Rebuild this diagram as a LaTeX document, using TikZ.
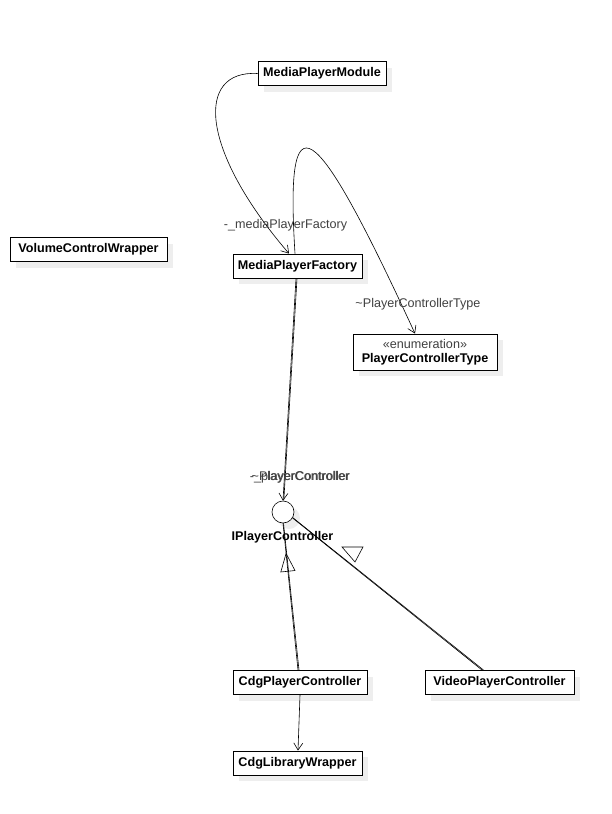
\documentclass[tikz,border=0pt]{standalone}
\usepackage{fontspec}
\setmainfont{Liberation Sans}
\usetikzlibrary{arrows.meta,shadows,decorations.markings}
\definecolor{shadowgray}{HTML}{EEEEEE}
\definecolor{labelgray}{HTML}{404040}
\begin{document}
\begin{tikzpicture}[x=1pt,y=-1pt,
  cls/.style={draw, line width=0.9pt, fill=white, font=\fontsize{12.6}{14}\selectfont\bfseries,
    minimum height=24pt, inner sep=0pt,
    drop shadow={shadow xshift=6pt, shadow yshift=-6pt, fill=shadowgray, opacity=1}},
  lbl/.style={font=\fontsize{12.6}{14}\selectfont, text=labelgray, inner sep=0pt},
  conn/.style={line width=0.6pt},
  arr/.style={conn, -{Straight Barb[length=7pt,width=9pt]}},
  real/.style={conn, postaction={decorate}}]
\useasboundingbox (0,0) rectangle (611,814);

\node[cls, minimum width=128pt] (mpm) at (322,73.5) {MediaPlayerModule};
\node[cls, minimum width=157pt] (vcw) at (88.5,249.5) {VolumeControlWrapper};
\node[cls, minimum width=129pt] (mpf) at (297.5,266) {MediaPlayerFactory};
\node[cls, minimum width=144pt, minimum height=36pt, align=center] (pct) at (425,352)
  {{\fontsize{12.6}{15}\selectfont\mdseries\color{labelgray}«enumeration»}\\PlayerControllerType};
\node[draw, circle, line width=0.6pt, fill=white, minimum size=22pt, inner sep=0pt,
  drop shadow={shadow xshift=6pt, shadow yshift=-6pt, fill=shadowgray, opacity=1}] (ipc) at (283,512) {};
\node[font=\fontsize{12.6}{14}\selectfont\bfseries, inner sep=0pt] (ipclbl) at (282.5,537) {IPlayerController};
\node[cls, minimum width=134pt] (cdg) at (300,682.5) {CdgPlayerController};
\node[cls, minimum width=149pt] (vpc) at (499.5,682.5) {VideoPlayerController};
\node[cls, minimum width=129pt] (clw) at (297.5,763) {CdgLibraryWrapper};

% associations
\coordinate (mpfA) at ([xshift=-8.5pt]mpf.north);
\coordinate (mpfB) at ([xshift=-2.5pt]mpf.north);
\coordinate (pctT) at ([xshift=-10pt]pct.north);
\draw[arr] (mpm.west) .. controls (195,70) and (200,150) .. (mpfA);
\node[lbl] (l1) at (285.5,225) {-\_mediaPlayerFactory};
\draw[arr] (mpfB) .. controls (285,95) and (312,110) .. (pctT);
\node[lbl] (l2) at (418,304) {\textasciitilde PlayerControllerType};
\draw[arr] ([xshift=-1.5pt]mpf.south) -- (ipc.north);
\draw[conn] ([xshift=-0.5pt]mpf.south) -- ([xshift=0.8pt]ipc.north);
\node[lbl] (l3) at (300,477) {-\_playerController};
\node[lbl] (l3b) at (300.5,477) {\textasciitilde PlayerController};

% realizations
\draw[real, decoration={markings, mark=at position 0.80 with {\arrow[line width=0.6pt]{Triangle[open, length=19pt, width=15pt]}}}]
  ([xshift=-2pt]cdg.north) -- (ipc.south);
\draw[conn] ([xshift=-1pt]cdg.north) -- ([xshift=0.5pt]ipc.south);
\draw[conn] ([xshift=-16pt]vpc.north) -- (ipc.-30);
\draw[conn] ([xshift=-17.5pt]vpc.north) -- (ipc.-32);
\draw[conn, fill=white] (342,547) -- (363,547) -- (355,562) -- cycle;

% dependency
\draw[arr] ([xshift=0pt]cdg.south) -- ([xshift=0.5pt]clw.north);
\end{tikzpicture}
\end{document}
